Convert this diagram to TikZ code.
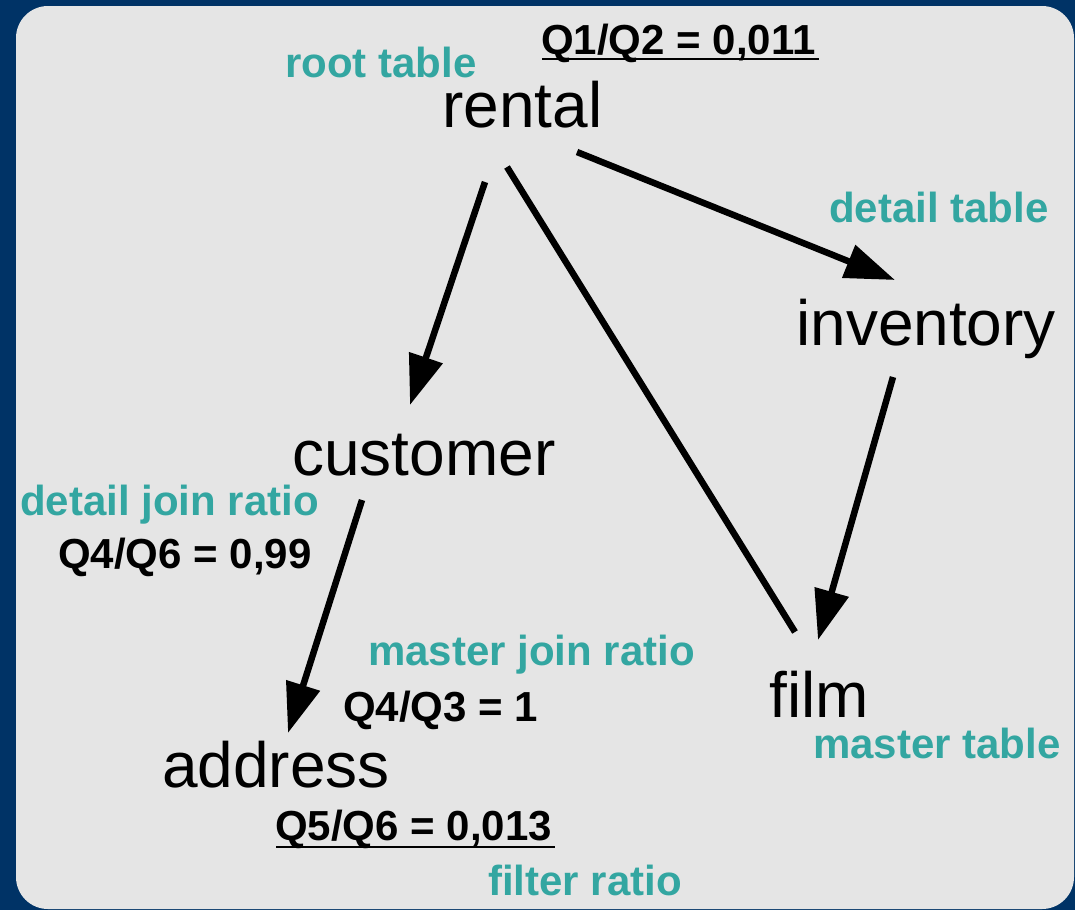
\documentclass[tikz,border=0pt]{standalone}
\usepackage{fontspec}
\setmainfont{Liberation Sans}
\usetikzlibrary{arrows.meta}
\definecolor{bgblue}{RGB}{0,51,102}
\definecolor{panel}{RGB}{229,229,229}
\definecolor{teal2}{RGB}{51,166,161}
\begin{document}
\begin{tikzpicture}[x=1pt,y=-1pt,
  tbl/.style={anchor=base west,inner sep=0pt,font=\fontsize{64}{70}\selectfont},
  lbl/.style={anchor=base west,inner sep=0pt,text=teal2,font=\fontsize{42}{46}\selectfont\bfseries},
  ratio/.style={anchor=base west,inner sep=0pt,font=\fontsize{42}{46}\selectfont\bfseries},
  arr/.style={line width=6.5pt,-{Triangle[length=50pt,width=34pt]}},
  plain/.style={line width=6.5pt},
  uline/.style={line width=2.8pt}]
\useasboundingbox (0,0) rectangle (1075,910);
\fill[bgblue] (0,0) rectangle (1075,910);
\fill[panel,rounded corners=32pt] (16,6) rectangle (1074,909);

% tables
\node[tbl] (rental) at (442,127) {rental};
\node[tbl] (inventory) at (796,345) {inventory};
\node[tbl] (customer) at (292,475) {customer};
\node[tbl] (film) at (769,717) {film};
\node[tbl] (address) at (162,787) {address};

% labels
\node[lbl] (rootl) at (285,77) {root table};
\node[lbl] (detl) at (829,222) {detail table};
\node[lbl] (djr) at (20,515) {detail join ratio};
\node[lbl] (mjr) at (368,665) {master join ratio};
\node[lbl] (mtl) at (813,758) {master table};
\node[lbl] (fr) at (488,895) {filter ratio};

% ratios
\node[ratio] (q12) at (541,54) {Q1/Q2 = 0,011};
\node[ratio] (q46) at (58,568) {Q4/Q6 = 0,99};
\node[ratio] (q43) at (343,721) {Q4/Q3 = 1};
\node[ratio] (q56) at (275,840) {Q5/Q6 = 0,013};
\draw[uline] ([shift={(1,5)}]q12.base west) -- ([shift={(3,5)}]q12.base east);
\draw[uline] ([shift={(1,7)}]q56.base west) -- ([shift={(3,7)}]q56.base east);

% connectors
\draw[arr] ([shift={(43,55)}]rental.base west) -- ([shift={(118,-70)}]customer.base west);
\draw[arr] ([shift={(135,25)}]rental.base west) -- ([shift={(99,-65)}]inventory.base west);
\draw[plain] ([shift={(65,40)}]rental.base west) -- ([shift={(26,-85)}]film.base west);
\draw[arr] ([shift={(97,32)}]inventory.base west) -- ([shift={(49,-77)}]film.base west);
\draw[arr] ([shift={(70,25)}]customer.base west) -- ([shift={(126,-54)}]address.base west);
\end{tikzpicture}
\end{document}
